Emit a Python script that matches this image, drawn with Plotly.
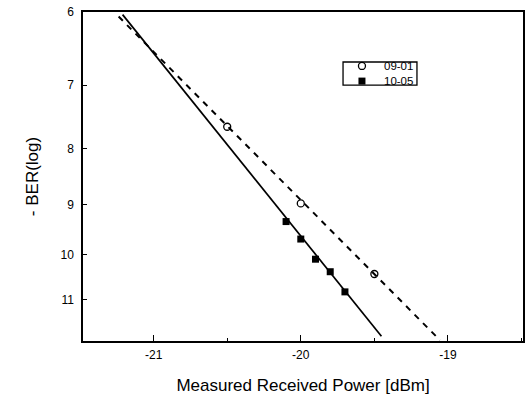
import math
import plotly.graph_objects as go

# Data
x_0901 = [-20.5, -20.0, -19.5]
y_0901 = [7.64, 8.98, 10.42]

x_1005 = [-20.1, -20.0, -19.9, -19.8, -19.7]
y_1005 = [9.33, 9.68, 10.10, 10.37, 10.82]

# fitted lines (end points)
fit_x_0901 = [-21.238, -19.054]
fit_y_0901 = [6.057, 11.98]
fit_x_1005 = [-21.211, -19.452]
fit_y_1005 = [6.032, 11.88]

y_ticks = [6, 7, 8, 9, 10, 11]
x_ticks = [-21, -20, -19]
series_names = ["09-01", "10-05"]

FONT = "Liberation Sans, Arial, Helvetica, sans-serif"

# legend box layout (paper fractions of the plot area)
LEG_X0, LEG_X1 = 0.591, 0.759
LEG_Y0, LEG_Y1 = 0.778, 0.848
LEG_KEY_X = 0.634
LEG_TEXT_X = 0.680
LEG_ROWS_Y = [0.836, 0.790]

fig = go.Figure()
fig.add_trace(go.Scatter(x=fit_x_0901, y=fit_y_0901, mode="lines",
                         line=dict(color="black", width=2, dash="6px,6px"),
                         showlegend=False, hoverinfo="skip"))
fig.add_trace(go.Scatter(x=fit_x_1005, y=fit_y_1005, mode="lines",
                         line=dict(color="black", width=1.7),
                         showlegend=False, hoverinfo="skip"))
m_open = dict(symbol="circle-open", size=7, color="black", line=dict(width=1.3, color="black"))
m_fill = dict(symbol="square", size=7, color="black")
fig.add_trace(go.Scatter(x=x_0901, y=y_0901, mode="markers", name=series_names[0],
                         marker=m_open, showlegend=False))
fig.add_trace(go.Scatter(x=x_1005, y=y_1005, mode="markers", name=series_names[1],
                         marker=m_fill, showlegend=False))

# legend keys on an overlay axis spanning the plot area in [0,1]
fig.add_trace(go.Scatter(x=[LEG_KEY_X], y=[LEG_ROWS_Y[0]], mode="markers", marker=m_open,
                         xaxis="x2", yaxis="y2", showlegend=False, hoverinfo="skip"))
fig.add_trace(go.Scatter(x=[LEG_KEY_X], y=[LEG_ROWS_Y[1]], mode="markers", marker=m_fill,
                         xaxis="x2", yaxis="y2", showlegend=False, hoverinfo="skip"))
fig.add_shape(type="rect", xref="paper", yref="paper", x0=LEG_X0, x1=LEG_X1,
              y0=LEG_Y0, y1=LEG_Y1, line=dict(color="black", width=1.3),
              fillcolor="rgba(0,0,0,0)")
for name, yy in zip(series_names, LEG_ROWS_Y):
    fig.add_annotation(x=LEG_TEXT_X, y=yy, xref="paper", yref="paper", text=name,
                       showarrow=False, xanchor="left", yanchor="middle",
                       font=dict(size=11.5, family=FONT, color="black"))

fig.update_layout(
    width=526, height=397,
    margin=dict(l=83, r=3, t=12, b=56),
    paper_bgcolor="white", plot_bgcolor="white",
    font=dict(family=FONT, color="black", size=12),
    showlegend=False,
    xaxis=dict(
        range=[-21.48, -18.49], tickvals=x_ticks, ticktext=[str(v) for v in x_ticks],
        ticks="inside", ticklen=6, tickwidth=1.2, tickcolor="black",
        ticklabelstandoff=2,
        minor=dict(dtick=0.5, ticks="inside", ticklen=3, tickcolor="black"),
        showline=True, linecolor="black", linewidth=1.5, mirror=True,
        showgrid=False, zeroline=False, automargin=False,
        tickfont=dict(size=12),
        title=dict(text="Measured Received Power [dBm]", font=dict(size=17), standoff=18),
    ),
    yaxis=dict(
        type="log", range=[math.log10(12.0), math.log10(5.999)], tickvals=y_ticks,
        ticktext=[str(v) for v in y_ticks],
        ticks="inside", ticklen=4, tickwidth=1.2, tickcolor="black",
        ticklabelstandoff=5,
        showline=True, linecolor="black", linewidth=1.5, mirror=True,
        showgrid=False, zeroline=False, automargin=False,
        tickfont=dict(size=12),
        title=dict(text="- BER(log)", font=dict(size=17), standoff=18),
    ),
    xaxis2=dict(overlaying="x", range=[0, 1], visible=False, fixedrange=True),
    yaxis2=dict(overlaying="y", range=[0, 1], visible=False, fixedrange=True),
)

fig.write_html("out.html", config={"displayModeBar": False},
               post_script="document.body.style.margin='0';")
